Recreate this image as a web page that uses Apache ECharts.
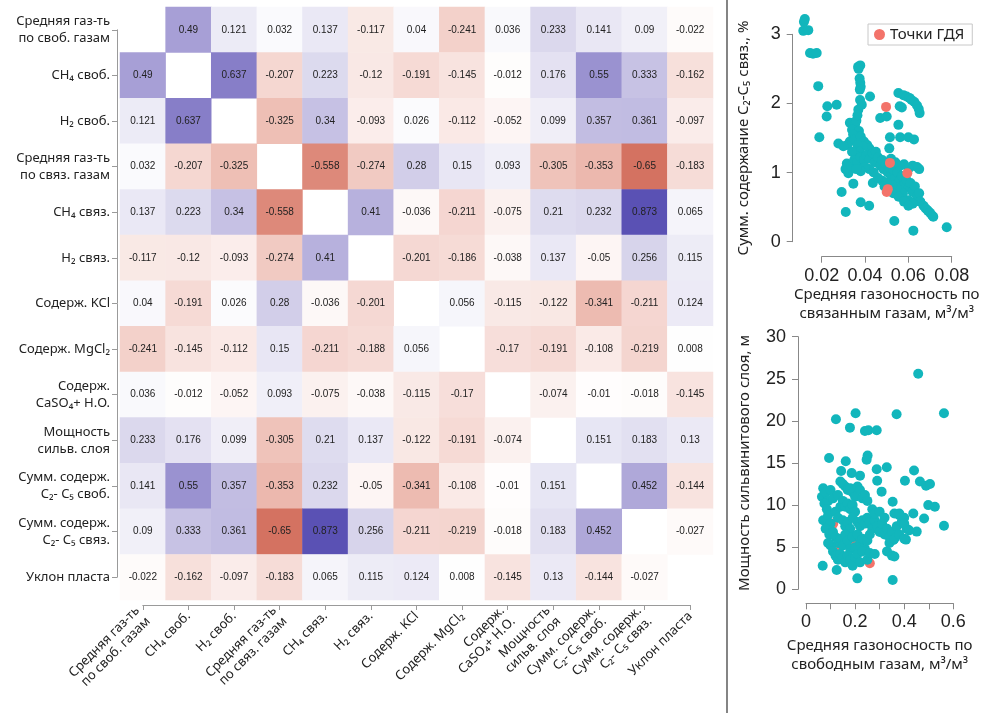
<!DOCTYPE html>
<html lang="ru">
<head>
<meta charset="UTF-8">
<title>Корреляции</title>
<style>
  html, body { margin: 0; padding: 0; background: #fff; }
  #chart { width: 994px; height: 713px; }
</style>
</head>
<body>
<div id="chart"></div>
<script src="https://cdn.jsdelivr.net/npm/echarts@6/dist/echarts.min.js"></script>
<script>
// названия параметров (строки и столбцы матрицы)
var labels = [
  'Средняя газ-ть\nпо своб. газам',
  'CH₄ своб.',
  'H₂ своб.',
  'Средняя газ-ть\nпо связ. газам',
  'CH₄ связ.',
  'H₂ связ.',
  'Содерж. KCl',
  'Содерж. MgCl₂',
  'Содерж.\nCaSO₄+ Н.О.',
  'Мощность\nсильв. слоя',
  'Сумм. содерж.\nC₂- C₅ своб.',
  'Сумм. содерж.\nC₂- C₅ связ.',
  'Уклон пласта'
];

// коэффициенты корреляции, по строкам сверху вниз
var corr = [
  [null, 0.49, 0.121, 0.032, 0.137, -0.117, 0.04, -0.241, 0.036, 0.233, 0.141, 0.09, -0.022],
  [0.49, null, 0.637, -0.207, 0.223, -0.12, -0.191, -0.145, -0.012, 0.176, 0.55, 0.333, -0.162],
  [0.121, 0.637, null, -0.325, 0.34, -0.093, 0.026, -0.112, -0.052, 0.099, 0.357, 0.361, -0.097],
  [0.032, -0.207, -0.325, null, -0.558, -0.274, 0.28, 0.15, 0.093, -0.305, -0.353, -0.65, -0.183],
  [0.137, 0.223, 0.34, -0.558, null, 0.41, -0.036, -0.211, -0.075, 0.21, 0.232, 0.873, 0.065],
  [-0.117, -0.12, -0.093, -0.274, 0.41, null, -0.201, -0.186, -0.038, 0.137, -0.05, 0.256, 0.115],
  [0.04, -0.191, 0.026, 0.28, -0.036, -0.201, null, 0.056, -0.115, -0.122, -0.341, -0.211, 0.124],
  [-0.241, -0.145, -0.112, 0.15, -0.211, -0.188, 0.056, null, -0.17, -0.191, -0.108, -0.219, 0.008],
  [0.036, -0.012, -0.052, 0.093, -0.075, -0.038, -0.115, -0.17, null, -0.074, -0.01, -0.018, -0.145],
  [0.233, 0.176, 0.099, -0.305, 0.21, 0.137, -0.122, -0.191, -0.074, null, 0.151, 0.183, 0.13],
  [0.141, 0.55, 0.357, -0.353, 0.232, -0.05, -0.341, -0.108, -0.01, 0.151, null, 0.452, -0.144],
  [0.09, 0.333, 0.361, -0.65, 0.873, 0.256, -0.211, -0.219, -0.018, 0.183, 0.452, null, -0.027],
  [-0.022, -0.162, -0.097, -0.183, 0.065, 0.115, 0.124, 0.008, -0.145, 0.13, -0.144, -0.027, null]
];

// верхний график: газоносность по связанным газам (x) / сумм. C2-C5 связ. (y)
var boundAll = [
  [0.0118,3.18],[0.0122,3.22],[0.0115,3.05],[0.0138,3.06],[0.0146,2.73],[0.0160,2.72],[0.0177,2.73],
  [0.0184,2.25],[0.0226,1.96],[0.0269,1.98],[0.0223,1.81],[0.0189,1.51],[0.0277,1.42],[0.0292,0.72],
  [0.0311,0.43],[0.0346,0.84],[0.0380,0.57],[0.0419,0.52],[0.0436,0.85],[0.0535,0.30],[0.0623,0.16],
  [0.0777,0.21],
  [0.0368,2.53],[0.0378,2.55],[0.0370,2.50],[0.0375,2.36],[0.0378,2.30],[0.0380,2.24],[0.0376,2.20],
  [0.0423,2.10],[0.0377,2.05],[0.0369,1.91],[0.0385,1.98],
  [0.0554,2.15],[0.0577,2.12],[0.0592,2.10],[0.0605,2.08],[0.0615,2.05],[0.0628,2.02],[0.0640,1.97],
  [0.0648,1.92],[0.0652,1.86],[0.0570,1.94],[0.0560,1.96],
  [0.0470,1.79],[0.0500,1.81],[0.0554,1.69],[0.0515,1.51],[0.0562,1.51],[0.0600,1.51],[0.0626,1.48],
  [0.0512,1.35],
  [0.0330,1.72],[0.0354,1.69],[0.0340,1.62],[0.0360,1.75],[0.0365,1.83],[0.0372,1.60],[0.0345,1.55],
  [0.0330,1.45],[0.0318,1.40],[0.0300,1.38],[0.0352,1.48],[0.0380,1.52],[0.0395,1.45],[0.0410,1.40],
  [0.0420,1.35],[0.0390,1.38],[0.0365,1.40],[0.0375,1.30],[0.0355,1.25],[0.0340,1.30],
  [0.0316,1.13],[0.0323,0.99],[0.0310,1.05],[0.0335,1.10],[0.0350,1.18],[0.0365,1.15],[0.0380,1.22],
  [0.0395,1.18],[0.0405,1.25],[0.0420,1.20],[0.0435,1.28],[0.0445,1.15],[0.0450,1.30],[0.0460,1.22],
  [0.0470,1.10],[0.0480,1.18],[0.0485,1.05],[0.0495,1.12],[0.0505,1.00],[0.0510,1.08],[0.0520,0.95],
  [0.0530,1.04],[0.0540,0.92],[0.0550,1.00],[0.0560,0.88],[0.0570,0.95],[0.0580,0.82],[0.0590,0.90],
  [0.0600,0.78],[0.0610,0.85],[0.0620,0.72],[0.0630,0.80],[0.0640,0.65],[0.0650,0.70],[0.0655,0.58],
  [0.0670,0.52],[0.0680,0.48],[0.0690,0.45],[0.0700,0.42],[0.0710,0.38],[0.0715,0.36],[0.0600,0.60],
  [0.0620,0.55],[0.0575,0.70],[0.0545,0.78],[0.0525,0.82],[0.0500,0.85],[0.0480,0.88],[0.0460,0.92],
  [0.0440,1.00],[0.0420,1.05],[0.0400,1.08],[0.0380,1.02],[0.0360,1.05],[0.0640,1.08],[0.0650,1.05],
  [0.0620,1.10],[0.0600,1.05],[0.0580,1.12],[0.0560,1.10],[0.0540,1.15],[0.0520,1.20],[0.0490,0.80],
  [0.0510,0.75],[0.0530,0.70],[0.0555,0.65],[0.0580,0.58],[0.0600,0.52]
];
var boundGdi = [[0.0497,1.95],[0.0515,1.14],[0.0595,0.99],[0.0500,0.72],[0.0505,0.76]];

// нижний график: газоносность по свободным газам (x) / мощность сильв. слоя (y)
var freeAll = [
  [0.457,25.6],[0.122,20.2],[0.202,20.9],[0.369,20.8],[0.562,20.9],[0.179,19.2],[0.240,18.8],
  [0.254,18.9],[0.288,18.9],[0.094,15.6],[0.251,15.9],[0.247,15.4],[0.162,15.2],[0.143,14.05],
  [0.288,14.25],[0.329,14.5],[0.186,13.8],[0.220,13.5],[0.290,12.9],[0.403,12.9],[0.440,14.1],
  [0.464,12.8],[0.489,12.3],[0.505,12.5],[0.308,11.6],[0.353,10.4],[0.498,10.0],[0.525,9.8],
  [0.437,9.0],[0.481,8.4],[0.562,7.55],[0.451,6.85],[0.356,5.85],[0.407,5.9],[0.209,1.3],
  [0.353,1.1],[0.068,2.8],[0.125,2.3],
  [0.07,12.0],[0.065,11.0],[0.08,11.5],[0.09,10.5],[0.075,10.2],[0.10,11.8],[0.11,10.8],[0.085,9.5],
  [0.07,8.2],[0.09,8.8],[0.10,7.8],[0.08,7.2],[0.095,6.5],[0.11,6.8],[0.12,9.2],[0.13,8.5],[0.14,9.8],
  [0.13,11.2],[0.15,12.5],[0.16,12.2],[0.14,12.8],[0.17,11.8],[0.18,12.0],[0.19,11.5],[0.20,11.0],
  [0.21,12.2],[0.22,11.8],[0.23,10.8],[0.24,11.2],[0.25,10.5],[0.15,10.5],[0.16,9.8],[0.17,10.2],
  [0.18,9.5],[0.19,10.0],[0.20,9.2],[0.15,8.2],[0.16,7.5],[0.17,8.0],[0.18,7.2],[0.19,8.5],[0.21,8.0],
  [0.22,7.5],[0.23,8.2],[0.24,7.8],[0.25,8.5],[0.26,8.0],[0.27,7.2],[0.28,8.2],[0.29,7.5],[0.30,6.8],
  [0.31,7.8],[0.32,6.5],[0.33,7.2],[0.34,6.2],[0.35,6.8],[0.27,9.5],[0.28,9.0],[0.30,9.2],[0.32,8.5],
  [0.12,6.2],[0.13,5.5],[0.14,6.0],[0.15,5.2],[0.16,6.5],[0.17,5.8],[0.18,4.8],[0.19,6.2],[0.20,5.0],
  [0.21,6.5],[0.22,5.5],[0.23,6.0],[0.24,4.8],[0.25,5.8],[0.26,6.5],[0.10,5.2],[0.09,5.5],[0.11,4.5],
  [0.12,4.0],[0.13,3.5],[0.14,4.2],[0.15,3.8],[0.16,3.2],[0.17,4.0],[0.18,3.5],[0.19,2.8],[0.20,3.8],
  [0.21,4.2],[0.22,3.2],[0.23,4.5],[0.25,3.5],[0.26,4.3],[0.28,4.2],[0.33,4.5],[0.35,4.0],[0.36,3.9],
  [0.34,5.5],[0.36,6.0],[0.38,6.5],[0.40,6.0],[0.37,7.5],[0.39,8.0],[0.41,7.2],[0.38,8.8],[0.40,8.5],
  [0.36,9.0],[0.38,9.0],[0.40,7.8],[0.42,7.0]
];
var freeGdi = [[0.111,7.8],[0.19,5.8],[0.205,5.6],[0.20,5.2],[0.12,4.9],[0.13,4.5],[0.26,3.1]];

// ---- геометрия ----
var hmLeft = 120, hmTop = 7, hmSize = 593;
var cell = hmSize / labels.length;
var txt = '#222', axisGray = '#9a9a9a';
var uiFont = 'Noto Sans';

var heatData = [];
for (var i = 0; i < corr.length; i++) {
  for (var j = 0; j < corr[i].length; j++) {
    if (corr[i][j] !== null) heatData.push([j, i, corr[i][j]]);
  }
}
// индексы строк/столбцов — только для осей с засечками под матрицей
var tickIdx = labels.map(function (l, k) { return [k, k]; });

var tealColor = '#12b6bc', gdiColor = '#f3736a';

var chart = echarts.init(document.getElementById('chart'));
var option = {
  backgroundColor: '#fff',
  animation: false,
  textStyle: { fontFamily: uiFont },
  graphic: [{
    type: 'line',
    shape: { x1: 727, y1: 0, x2: 727, y2: 713 },
    style: { stroke: '#333', lineWidth: 1.2 }
  }],
  grid: [
    { left: hmLeft, top: hmTop, width: hmSize, height: hmSize, outerBoundsMode: 'none' },
    { left: hmLeft + cell / 2, top: hmTop + cell / 2, width: hmSize - cell, height: hmSize - cell, outerBoundsMode: 'none' },
    { left: 821.7, top: 34.3, width: 130, height: 207.4, outerBoundsMode: 'none' },
    { left: 806, top: 336.7, width: 147.3, height: 252.6, outerBoundsMode: 'none' }
  ],
  visualMap: {
    type: 'continuous', show: false, min: -1, max: 1, seriesIndex: 0,
    inRange: {
      color: ['#b92823', '#cb5846', '#e2988a', '#f3cfc8', '#ffffff',
              '#d8d5ec', '#a59dd5', '#6e64bd', '#463eaa']
    }
  },
  legend: {
    data: ['Точки ГДЯ'],
    left: 868, top: 24,
    padding: [3, 8, 3, 6],
    borderColor: '#c8c8c8', borderWidth: 1,
    itemWidth: 11, itemHeight: 11, itemGap: 6,
    icon: 'circle',
    textStyle: { fontFamily: uiFont, fontSize: 15, color: txt }
  },
  xAxis: [
    {
      type: 'category', gridIndex: 0, data: labels,
      axisLine: { show: false }, axisTick: { show: false }, splitLine: { show: false },
      axisLabel: {
        interval: 0, rotate: 45, margin: 14, color: txt, fontSize: 13, lineHeight: 15,
        fontFamily: uiFont, hideOverlap: false
      }
    },
    {
      type: 'value', gridIndex: 1, min: 0, max: labels.length - 1, interval: 1,
      position: 'bottom', offset: cell / 2 + 5,
      axisLine: { show: true, onZero: false, lineStyle: { color: axisGray, width: 1 } },
      axisTick: { show: true, length: 5, lineStyle: { color: axisGray } },
      axisLabel: { show: false }, splitLine: { show: false }
    },
    {
      type: 'value', gridIndex: 2, min: 0.02, max: 0.08, interval: 0.02, offset: 15,
      name: 'Средняя газоносность по\nсвязанным газам, м³/м³',
      nameLocation: 'middle', nameGap: 27,
      nameTextStyle: { fontFamily: uiFont, fontSize: 15, color: txt, lineHeight: 19 },
      axisLine: { show: true, onZero: false, lineStyle: { color: '#888' } },
      axisTick: { show: true, length: 6, lineStyle: { color: '#888' } },
      axisLabel: {
        margin: 10, color: txt, fontSize: 18, fontFamily: 'Liberation Sans', hideOverlap: false,
        showMinLabel: true, showMaxLabel: true,
        formatter: function (v) { return v.toFixed(2); }
      },
      splitLine: { show: false }
    },
    {
      type: 'value', gridIndex: 3, min: 0, max: 0.6, interval: 0.1, offset: 14,
      name: 'Средняя газоносность по\nсвободным газам, м³/м³',
      nameLocation: 'middle', nameGap: 33,
      nameTextStyle: { fontFamily: uiFont, fontSize: 15, color: txt, lineHeight: 19 },
      axisLine: { show: true, onZero: false, lineStyle: { color: '#888' } },
      axisTick: { show: true, length: 6, lineStyle: { color: '#888' } },
      axisLabel: {
        margin: 10, color: txt, fontSize: 18, fontFamily: 'Liberation Sans', hideOverlap: false,
        showMinLabel: true, showMaxLabel: true,
        formatter: function (v) {
          var k = Math.round(v * 10);
          return k % 2 === 0 ? String(k / 10) : '';
        }
      },
      splitLine: { show: false }
    }
  ],
  yAxis: [
    {
      type: 'category', gridIndex: 0, data: labels, inverse: true,
      axisLine: { show: false }, axisTick: { show: false }, splitLine: { show: false },
      axisLabel: {
        interval: 0, margin: 10, color: txt, fontSize: 13, lineHeight: 17, align: 'right',
        fontFamily: uiFont, hideOverlap: false
      }
    },
    {
      type: 'value', gridIndex: 1, min: 0, max: labels.length - 1, interval: 1, inverse: true,
      position: 'left', offset: cell / 2 + 3,
      axisLine: { show: true, onZero: false, lineStyle: { color: axisGray, width: 1 } },
      axisTick: { show: true, length: 5, lineStyle: { color: axisGray } },
      axisLabel: { show: false }, splitLine: { show: false }
    },
    {
      type: 'value', gridIndex: 2, min: 0, max: 3, interval: 1, offset: 29,
      name: 'Сумм. содержание C₂-C₅ связ., %',
      nameLocation: 'middle', nameGap: 41,
      nameTextStyle: { fontFamily: uiFont, fontSize: 15, color: txt },
      axisLine: { show: true, onZero: false, lineStyle: { color: '#888' } },
      axisTick: { show: true, length: 6, lineStyle: { color: '#888' } },
      axisLabel: { margin: 12, color: txt, fontSize: 18, fontFamily: 'Liberation Sans', hideOverlap: false },
      splitLine: { show: false }
    },
    {
      type: 'value', gridIndex: 3, min: 0, max: 30, interval: 5, offset: 8,
      name: 'Мощность сильвинитового слоя, м',
      nameLocation: 'middle', nameGap: 46,
      nameTextStyle: { fontFamily: uiFont, fontSize: 15, color: txt },
      axisLine: { show: true, onZero: false, lineStyle: { color: '#888' } },
      axisTick: { show: true, length: 6, lineStyle: { color: '#888' } },
      axisLabel: { margin: 12, color: txt, fontSize: 18, fontFamily: 'Liberation Sans', hideOverlap: false },
      splitLine: { show: false }
    }
  ],
  series: [
    {
      name: 'Корреляция', type: 'heatmap', xAxisIndex: 0, yAxisIndex: 0,
      data: heatData,
      label: {
        show: true, color: txt, fontSize: 10, fontFamily: 'Liberation Sans',
        formatter: function (p) { return String(p.value[2]); }
      },
      emphasis: { disabled: true }
    },
    {
      // невидимая серия, чтобы оси засечек матрицы получили свой масштаб
      name: 'оси', type: 'scatter', xAxisIndex: 1, yAxisIndex: 1, symbolSize: 0,
      silent: true, itemStyle: { opacity: 0 }, data: tickIdx
    },
    {
      name: 'Все точки', type: 'scatter', xAxisIndex: 2, yAxisIndex: 2, clip: false,
      symbolSize: 10, itemStyle: { color: tealColor, opacity: 1 }, data: boundAll
    },
    {
      name: 'Точки ГДЯ', type: 'scatter', xAxisIndex: 2, yAxisIndex: 2, clip: false,
      symbolSize: 10, itemStyle: { color: gdiColor, opacity: 1 }, data: boundGdi
    },
    {
      name: 'Все точки', type: 'scatter', xAxisIndex: 3, yAxisIndex: 3, clip: false,
      symbolSize: 10, itemStyle: { color: tealColor, opacity: 1 }, data: freeAll
    },
    {
      name: 'Точки ГДЯ', type: 'scatter', xAxisIndex: 3, yAxisIndex: 3, clip: false, z: 1,
      symbolSize: 10, itemStyle: { color: gdiColor, opacity: 1 }, data: freeGdi
    }
  ]
};
chart.setOption(option);
</script>
</body>
</html>
